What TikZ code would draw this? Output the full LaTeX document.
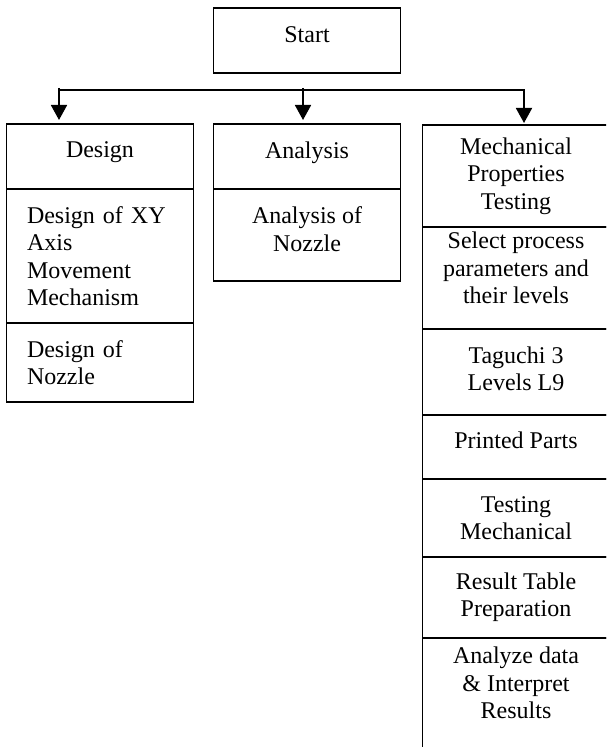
\documentclass[tikz,border=0pt]{standalone}
\usepackage{fontspec}
\setmainfont{Liberation Serif}
\usetikzlibrary{arrows.meta, positioning}

\begin{document}
\begin{tikzpicture}[
    x=0.5pt, y=-0.5pt,
    font=\fontsize{12}{13.7}\selectfont,
    >={Triangle[length=7.5pt,width=8pt]},
    box/.style={draw, line width=0.9pt, outer sep=0pt, inner sep=0pt,
                minimum width=93.5pt, align=center},
    lft/.style={box, text width=73pt, align=left},
    lift/.style={text depth=#1},
    flow/.style={->, line width=0.9pt, shorten >=2pt},
  ]
  \path[use as bounding box, clip] (0,0) rectangle (606,747);

  %% ---- start and the branch line -------------------------------------
  \node[box, minimum height=32.5pt, lift=5.5pt] (start) at (307,40.5) {Start};

  \coordinate (tL) at (59,88);
  \coordinate (tM) at (303,88);
  \coordinate (tR) at (524,90);

  %% ---- design column -------------------------------------------------
  \node[box, minimum height=32.5pt, lift=6.8pt] (dsg) at (100,156.5) {Design};
  \node[lft, minimum height=67pt, below=0pt of dsg] (dsgXY)
    {Design of XY\\ Axis\\ Movement\\ Mechanism};
  \node[lft, minimum height=39.5pt, below=0pt of dsgXY] (dsgNz)
    {Design of\\ Nozzle};

  %% ---- analysis column -----------------------------------------------
  \node[box, minimum height=32.5pt, lift=6.8pt] (ana) at (307,156.5) {Analysis};
  \node[box, minimum height=46pt, lift=6pt, below=0pt of ana] (anaNz)
    {Analysis of\\ Nozzle};

  %% ---- mechanical testing column -------------------------------------
  \node[box, minimum height=51pt] (mech) at (516,176)
    {Mechanical\\ Properties\\ Testing};
  \node[box, minimum height=51pt, lift=10pt, below=0pt of mech] (sel)
    {Select process\\ parameters and\\ their levels};
  \node[box, minimum height=43pt, lift=3.5pt, below=0pt of sel] (tag)
    {Taguchi 3\\ Levels L9};
  \node[box, minimum height=32pt, lift=6.5pt, below=0pt of tag] (prn)
    {Printed Parts};
  \node[box, minimum height=39pt, below=0pt of prn] (tst)
    {Testing\\ Mechanical};
  \node[box, minimum height=40.5pt, below=0pt of tst] (res)
    {Result Table\\ Preparation};
  \node[box, minimum height=61pt, lift=16pt, below=0pt of res] (anz)
    {Analyze data\\ \& Interpret\\ Results};

  %% ---- arrows --------------------------------------------------------
  \draw[flow, shorten >=1pt] (tL |- tR) -- (tR) -- (tR |- mech.north);
  \draw[flow] (tL) -- (tL |- dsg.north);
  \draw[flow] (tM) -- (tM |- ana.north);

\end{tikzpicture}
\end{document}
